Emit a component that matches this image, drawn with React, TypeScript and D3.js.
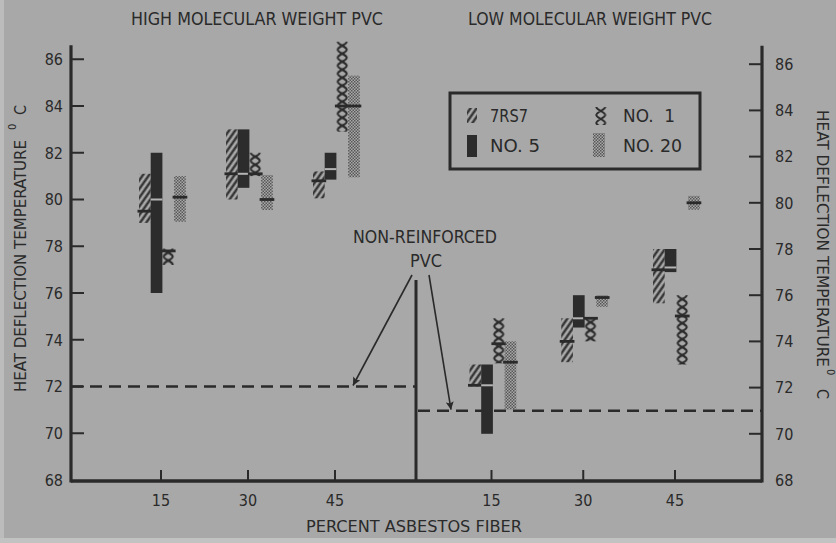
import React from "react";
import * as d3 from "d3";

// Asbestos fiber loadings on the x axis (percent)
const fiberPercents = [15, 30, 45];
const panelTitles = ["HIGH MOLECULAR WEIGHT PVC", "LOW MOLECULAR WEIGHT PVC"];
const tempTicks = [70, 72, 74, 76, 78, 80, 82, 84, 86];
const bottomTickLabels = ["15", "30", "45"];
const seriesLabels = ["7RS7", "NO. 5", "NO.  1", "NO. 20"];

// Heat deflection temperature, [low, mean, high] at 15 / 30 / 45 % fiber
const highMw7RS7 = [[79.0, 79.5, 81.1], [80.0, 81.1, 83.0], [80.05, 80.8, 81.2]];
const highMwNo5 = [[76.0, 80.0, 82.0], [80.5, 81.1, 83.0], [80.85, 81.3, 82.0]];
const highMwNo1 = [[77.2, 77.8, 77.9], [81.0, 81.1, 82.0], [82.9, 84.0, 86.75]];
const highMwNo20 = [[79.05, 80.1, 81.0], [79.55, 80.0, 81.05], [80.95, 84.0, 85.3]];

const lowMw7RS7 = [[72.05, 72.1, 73.0], [73.1, 74.0, 75.0], [75.65, 77.1, 78.0]];
const lowMwNo5 = [[70.0, 72.1, 73.0], [74.6, 75.0, 76.0], [77.0, 77.2, 78.0]];
const lowMwNo1 = [[73.05, 73.9, 75.0], [74.0, 75.0, 75.0], [73.0, 75.1, 76.0]];
const lowMwNo20 = [[71.05, 73.1, 74.0], [75.5, 75.9, 76.0], [79.7, 80.0, 80.3]];

// Unfilled resin reference temperatures (high MW, low MW)
const nonReinforcedTemp = [72.0, 71.0];

const W = 836;
const H = 543;
const BG = "#a8a8a8";
const INK = "#2a2a2a";
const FONT = "'Liberation Sans Narrow', 'DejaVu Sans Condensed', 'Liberation Sans', Arial, sans-serif";

const yLeft = d3.scaleLinear().domain([68, 86]).range([480, 59.25]);
const yRight = d3.scaleLinear().domain([68, 86]).range([480, 64.2]);
const xLeft = d3.scaleLinear().domain([15, 45]).range([161, 335]);
const xRight = d3.scaleLinear().domain([15, 45]).range([491.5, 675]);

const BAR_W = 11.7;
const GROUP_OFFSET = -22;
const AXIS_LEFT = 71;
const AXIS_RIGHT = 762;
const DIVIDER = 416;
const BASE = 481;

const panels = [
  { key: "hi", x: xLeft, y: yLeft, series: [highMw7RS7, highMwNo5, highMwNo1, highMwNo20] },
  { key: "lo", x: xRight, y: yRight, series: [lowMw7RS7, lowMwNo5, lowMwNo1, lowMwNo20] },
];

function ChainPattern({ id, x, y, w }: { id: string; x: number; y: number; w: number }) {
  const h = 8;
  const a = 1.3;
  const b = w - 1.3;
  return (
    <pattern id={id} patternUnits="userSpaceOnUse" x={x} y={y} width={w} height={h}>
      <path
        d={`M${a},0 C${a},3 ${b},5 ${b},${h} M${b},0 C${b},3 ${a},5 ${a},${h}`}
        fill="none"
        stroke={INK}
        strokeWidth={2}
      />
    </pattern>
  );
}

export default function App() {
  const chainDefs: JSX.Element[] = [];
  const bars: JSX.Element[] = [];

  panels.forEach((panel) => {
    panel.series.forEach((values, si) => {
      values.forEach(([low, mean, high], pi) => {
        const x0 = panel.x(fiberPercents[pi]) + GROUP_OFFSET + si * BAR_W;
        const top = panel.y(high);
        const bottom = panel.y(low);
        const key = `${panel.key}-${si}-${pi}`;
        let fill = INK;
        if (si === 0) fill = "url(#hatch)";
        if (si === 1) fill = "#2c2c2c";
        if (si === 2) {
          chainDefs.push(<ChainPattern key={key} id={`chain-${key}`} x={x0} y={top} w={BAR_W} />);
          fill = `url(#chain-${key})`;
        }
        if (si === 3) fill = "url(#stipple)";
        bars.push(<rect key={`b-${key}`} x={x0} y={top} width={BAR_W} height={Math.max(1, bottom - top)} fill={fill} />);
        const ym = panel.y(mean);
        if (si === 1) {
          bars.push(<rect key={`m-${key}`} x={x0} y={ym - 1} width={BAR_W} height={2} fill="#b4b4b4" />);
        } else {
          bars.push(<rect key={`m-${key}`} x={x0 - 1.5} y={ym - 1.4} width={BAR_W + 3} height={2.8} fill={INK} />);
        }
      });
    });
  });

  // legend swatch geometry
  const legend = { x: 450, y: 93, w: 250, h: 76 };
  const swatches = [
    { x: 467, y: 108, w: 10, h: 15, label: seriesLabels[0], tx: 490, ty: 116, tl: 38 },
    { x: 467, y: 135, w: 10, h: 22, label: seriesLabels[1], tx: 490, ty: 146, tl: 50 },
    { x: 595, y: 107, w: 11.5, h: 18, label: seriesLabels[2], tx: 623, ty: 116, tl: 52 },
    { x: 593, y: 133, w: 12, h: 24, label: seriesLabels[3], tx: 623, ty: 146, tl: 59 },
  ];

  return (
    <svg
      width={W}
      height={H}
      viewBox={`0 0 ${W} ${H}`}
      style={{ position: "absolute", left: 0, top: 0, display: "block" }}
      fontFamily={FONT}
    >
      <defs>
        <pattern id="hatch" patternUnits="userSpaceOnUse" width={5} height={10} patternTransform="rotate(35)">
          <line x1={2.5} y1={0} x2={2.5} y2={10} stroke={INK} strokeWidth={2.2} />
        </pattern>
        <pattern id="stipple" patternUnits="userSpaceOnUse" width={3} height={3}>
          <rect x={0} y={0} width={1.5} height={1.5} fill="#575757" />
          <rect x={1.5} y={1.5} width={1.5} height={1.5} fill="#575757" />
        </pattern>
        {chainDefs}
        <ChainPattern id="chain-legend" x={swatches[2].x} y={swatches[2].y} w={swatches[2].w} />
        <marker id="arrow" viewBox="0 0 10 10" refX={10} refY={5} markerWidth={11} markerHeight={8} orient="auto" markerUnits="userSpaceOnUse">
          <path d="M0,0 L10,5 L0,10 L2,5 z" fill={INK} />
        </marker>
      </defs>

      <rect x={0} y={0} width={W} height={H} fill={BG} />
      <rect x={0} y={0} width={4} height={H} fill="#bcbcbc" />
      <rect x={0} y={538} width={W} height={5} fill="#c2c2c2" />

      {/* panel titles */}
      <text x={131} y={25} fontSize={18} fill={INK} textLength={252} lengthAdjust="spacingAndGlyphs">{panelTitles[0]}</text>
      <text x={468} y={25} fontSize={18} fill={INK} textLength={244} lengthAdjust="spacingAndGlyphs">{panelTitles[1]}</text>

      {/* reference lines for unfilled resin */}
      <line x1={AXIS_LEFT} x2={DIVIDER} y1={yLeft(nonReinforcedTemp[0])} y2={yLeft(nonReinforcedTemp[0])} stroke={INK} strokeWidth={2.5} strokeDasharray="12 7" />
      <line x1={DIVIDER + 2} x2={AXIS_RIGHT} y1={yRight(nonReinforcedTemp[1])} y2={yRight(nonReinforcedTemp[1])} stroke={INK} strokeWidth={2.5} strokeDasharray="12 7" />

      {bars}

      {/* axes */}
      <line x1={AXIS_LEFT} x2={AXIS_LEFT} y1={yLeft(86.6)} y2={BASE + 1.5} stroke={INK} strokeWidth={3.2} />
      <line x1={AXIS_RIGHT} x2={AXIS_RIGHT} y1={yRight(86.8)} y2={BASE + 1.5} stroke={INK} strokeWidth={3.2} />
      <line x1={AXIS_LEFT} x2={AXIS_RIGHT} y1={BASE} y2={BASE} stroke={INK} strokeWidth={3.5} />
      <line x1={DIVIDER} x2={DIVIDER} y1={280} y2={BASE} stroke={INK} strokeWidth={3} />

      {tempTicks.map((t) => (
        <g key={`yt-${t}`}>
          <line x1={AXIS_LEFT} x2={AXIS_LEFT + 13} y1={yLeft(t)} y2={yLeft(t)} stroke={INK} strokeWidth={2} />
          <line x1={AXIS_RIGHT - 13} x2={AXIS_RIGHT} y1={yRight(t)} y2={yRight(t)} stroke={INK} strokeWidth={2} />
        </g>
      ))}
      {[68, ...tempTicks].map((t) => (
        <g key={`yl-${t}`} fontSize={16} fill={INK}>
          <text x={63} y={yLeft(t)} dy="0.36em" textAnchor="end">{t}</text>
          <text x={775} y={yRight(t)} dy="0.36em" textAnchor="start">{t}</text>
        </g>
      ))}

      {panels.map((panel) =>
        fiberPercents.map((p, i) => (
          <g key={`xt-${panel.key}-${p}`}>
            <line x1={panel.x(p)} x2={panel.x(p)} y1={BASE} y2={BASE - 11} stroke={INK} strokeWidth={2} />
            <text x={panel.x(p)} y={506} fontSize={16} fill={INK} textAnchor="middle">{bottomTickLabels[i]}</text>
          </g>
        ))
      )}

      <text x={414} y={532} fontSize={16} fill={INK} textAnchor="middle" textLength={216} lengthAdjust="spacingAndGlyphs">PERCENT ASBESTOS FIBER</text>

      {/* left axis title */}
      <g transform="translate(26,392) rotate(-90)" fill={INK}>
        <text x={0} y={0} fontSize={16} textLength={252} lengthAdjust="spacingAndGlyphs">HEAT DEFLECTION TEMPERATURE</text>
        <text x={262} y={-10} fontSize={11}>0</text>
        <text x={277} y={0} fontSize={16}>C</text>
      </g>

      {/* right axis title */}
      <g transform="translate(817,110) rotate(90)" fill={INK}>
        <text x={0} y={0} fontSize={16} textLength={257} lengthAdjust="spacingAndGlyphs">HEAT DEFLECTION TEMPERATURE</text>
        <text x={259} y={-10} fontSize={11}>0</text>
        <text x={279} y={0} fontSize={16}>C</text>
      </g>

      {/* annotation */}
      <text x={425} y={243} fontSize={17} fill={INK} textAnchor="middle" textLength={144} lengthAdjust="spacingAndGlyphs">NON-REINFORCED</text>
      <text x={426} y={267} fontSize={17} fill={INK} textAnchor="middle" textLength={32} lengthAdjust="spacingAndGlyphs">PVC</text>
      <line x1={412} y1={275} x2={353} y2={yLeft(nonReinforcedTemp[0]) - 1} stroke={INK} strokeWidth={1.6} markerEnd="url(#arrow)" />
      <line x1={429} y1={275} x2={451} y2={yRight(nonReinforcedTemp[1]) - 1} stroke={INK} strokeWidth={1.6} markerEnd="url(#arrow)" />

      {/* legend */}
      <rect x={legend.x} y={legend.y} width={legend.w} height={legend.h} fill="none" stroke={INK} strokeWidth={3} />
      {swatches.map((s, i) => (
        <g key={`lg-${i}`}>
          <rect
            x={s.x}
            y={s.y}
            width={s.w}
            height={s.h}
            fill={i === 0 ? "url(#hatch)" : i === 1 ? "#2c2c2c" : i === 2 ? "url(#chain-legend)" : "url(#stipple)"}
          />
          <text x={s.tx} y={s.ty} dy="0.36em" fontSize={17} fill={INK} textLength={s.tl} lengthAdjust="spacingAndGlyphs" style={{ whiteSpace: "pre" }}>
            {s.label}
          </text>
        </g>
      ))}
    </svg>
  );
}
